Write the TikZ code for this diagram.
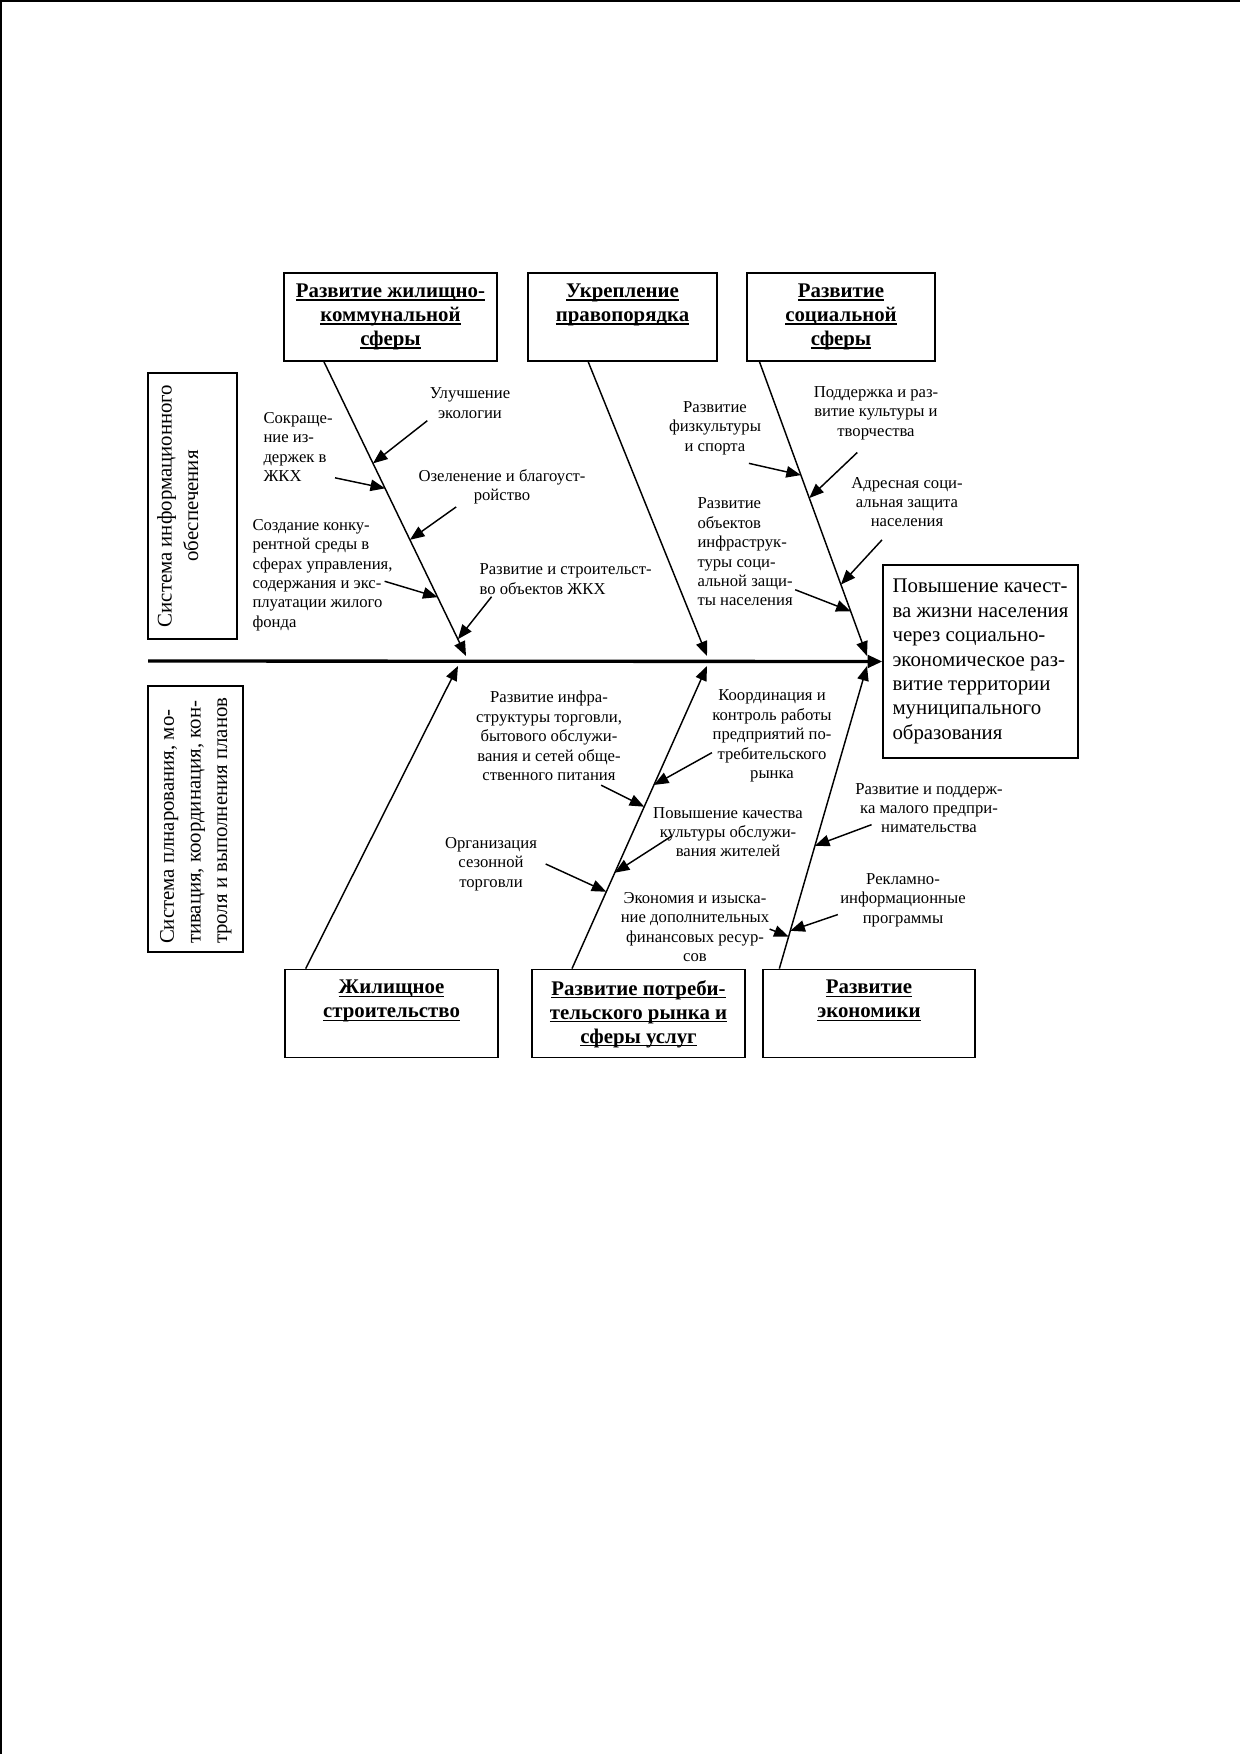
\documentclass[tikz,border=0pt]{standalone}
\usepackage{fontspec}
\setmainfont{Liberation Serif}
\usetikzlibrary{arrows.meta, positioning, calc}

\tikzstyle{head} = [draw, rectangle, line width=0.7pt, inner sep=0pt, minimum height=42.4pt, font=\fontsize{10}{11.5}\selectfont\bfseries]
\tikzstyle{side} = [draw, rectangle, line width=0.7pt, inner sep=0pt, rotate=90, minimum width=127.7pt, font=\fontsize{10}{12.8}\selectfont]
\tikzstyle{cause} = [inner sep=1pt, font=\fontsize{8}{9.3}\selectfont]
\tikzstyle{bone} = [draw, line width=0.7pt, -{Triangle[length=7pt,width=5.5pt]}]
\tikzstyle{arrow} = [draw, line width=0.7pt, -{Triangle[length=7pt,width=5.5pt]}]
\tikzstyle{spine} = [draw, line width=1.6pt, -{Triangle[length=7pt,width=6pt]}]

\newcommand{\undl}[1]{\leavevmode{\setbox0\hbox{#1}\rlap{\rule[-1.6pt]{\wd0}{0.7pt}}\box0}}
\newcommand{\headtxt}[2][88pt]{\parbox[c][40pt][t]{#1}{\centering\vspace{4pt}#2}}
\newcommand{\sidetxt}[2][\centering]{\parbox[c][40pt][t]{120pt}{#1\vspace{3pt}#2}}

\begin{document}
\begin{tikzpicture}[x=0.4801pt, y=-0.4801pt]
    \useasboundingbox (0,0) rectangle (1240,1754);
    % page edge
    \draw [line width=1pt] (1,1754) -- (1,1) -- (1240,1);

    % Draw blocks
    \node (hk) [head, minimum width=102.3pt] at (390.5,317) {\headtxt[100pt]{\undl{Развитие жилищно-}\\\undl{коммунальной}\\\undl{сферы}}};
    \node (law) [head, minimum width=90.7pt] at (622.5,317) {\headtxt{\undl{Укрепление}\\\undl{правопорядка}}};
    \node (soc) [head, minimum width=90.3pt] at (841,317) {\headtxt{\undl{Развитие}\\\undl{социальной}\\\undl{сферы}}};

    \node (zs) [head, minimum width=102.3pt] at (391.5,1013.5) {\headtxt[100pt]{\undl{Жилищное}\\\undl{строительство}}};
    \node (pr) [head, minimum width=102.3pt] at (638.5,1013.5) {\headtxt[100pt]{\undl{Развитие потреби-}\\\undl{тельского рынка и}\\\undl{сферы услуг}}};
    \node (ek) [head, minimum width=101.8pt] at (869,1013.5) {\headtxt[100pt]{\undl{Развитие}\\\undl{экономики}}};

    \node (goal) [draw, line width=0.7pt, minimum width=93.6pt, minimum height=92.7pt, align=left, font=\fontsize{10}{11.7}\selectfont] at (980.5,661.5) {Повышение качест-\\ва жизни населения\\через социально-\\экономическое раз-\\витие территории\\муниципального\\образования};

    \node (info) [side, minimum height=42.7pt] at (192.5,506) {\sidetxt{\mbox{Система информационного}\\обеспечения}};
    \node (plan) [side, minimum height=45.6pt] at (195.5,819) {\sidetxt[\raggedright]{\mbox{Система плнарования, мо-}\\\mbox{тивация, координация, кон-}\\\mbox{троля и выполнения планов}}};

    % Causes
    \node (ekol) [cause, align=center] at (470,403) {Улучшение\\экологии};
    \node (izd) [cause, align=left, anchor=west] at (261,447) {Сокраще-\\ние из-\\держек в\\ЖКХ};
    \node (ozel) [cause, align=center] at (502,487) {Озеленение и благоуст-\\ройство};
    \node (konk) [cause, align=left, anchor=west] at (250,575) {Создание конку-\\рентной среды в\\сферах управления,\\содержания и экс-\\плуатации жилого\\фонда};
    \node (zhkh) [cause, align=left, anchor=west] at (477,579) {Развитие и строительст-\\во объектов ЖКХ};

    \node (sport) [cause, align=center] at (715,428) {Развитие\\физкультуры\\и спорта};
    \node (kult) [cause, align=center] at (876,413) {Поддержка и раз-\\витие культуры и\\творчества};
    \node (adr) [cause, align=center] at (907,502) {Адресная соци-\\альная защита\\населения};
    \node (obj) [cause, align=left, anchor=west] at (695,552) {Развитие\\объектов\\инфраструк-\\туры соци-\\альной защи-\\ты населения};

    \node (torg) [cause, align=center] at (549,736) {Развитие инфра-\\структуры торговли,\\бытового обслужи-\\вания и сетей обще-\\ственного питания};
    \node (koord) [cause, align=center] at (772,736) {Координация и\\контроль работы\\предприятий по-\\требительского\\рынка};
    \node (kach) [cause, align=center] at (728,832) {Повышение качества\\культуры обслужи-\\вания жителей};
    \node (sez) [cause, align=center] at (491,864) {Организация\\сезонной\\торговли};
    \node (fin) [cause, align=center] at (695,927) {Экономия и изыска-\\ние дополнительных\\финансовых ресур-\\сов};

    \node (mal) [cause, align=center] at (929,808) {Развитие и поддерж-\\ка малого предпри-\\нимательства};
    \node (rekl) [cause, align=center] at (903,900) {Рекламно-\\информационные\\программы};

    % Spine and bones
    \coordinate (sp) at (148,661);
    \draw [spine] (sp) -- (goal.west);

    \coordinate (s1) at ($(hk.south west)!0.19!(hk.south east)$);
    \coordinate (s2) at ($(law.south west)!0.32!(law.south east)$);
    \coordinate (s3) at ($(soc.south west)!0.07!(soc.south east)$);
    \coordinate (s4) at ($(zs.north west)!0.10!(zs.north east)$);
    \coordinate (s5) at ($(pr.north west)!0.19!(pr.north east)$);
    \coordinate (s6) at ($(ek.north west)!0.08!(ek.north east)$);
    \coordinate (t1) at (466,656);
    \coordinate (t2) at (707,656);
    \coordinate (t3) at (867,656);
    \coordinate (t4) at (458,666);
    \coordinate (t5) at (707,666);
    \coordinate (t6) at (867,666);

    \draw [bone] (s1) -- (t1);
    \draw [bone] (s2) -- (t2);
    \draw [bone] (s3) -- (t3);
    \draw [bone] (s4) -- (t4);
    \draw [bone] (s5) -- (t5);
    \draw [bone] (s6) -- (t6);

    % Links
    \draw [arrow] (ekol.south west) -- ($(s1)!0.345!(t1)$);
    \draw [arrow] ([yshift=3pt]izd.south east) -- ($(s1)!0.43!(t1)$);
    \draw [arrow] ([xshift=-22pt]ozel.south) -- ($(s1)!0.605!(t1)$);
    \draw [arrow] ([xshift=-5pt,yshift=-3pt]konk.east) -- ($(s1)!0.8!(t1)$);
    \draw [arrow] ([xshift=7pt]zhkh.south west) -- ($(s1)!0.943!(t1)$);

    \draw [arrow] ([xshift=-7pt,yshift=-3pt]sport.south east) -- ($(s3)!0.385!(t3)$);
    \draw [arrow] ([xshift=-9pt,yshift=-5pt]kult.south) -- ($(s3)!0.463!(t3)$);
    \draw [arrow] ([xshift=-12pt,yshift=-5pt]adr.south) -- ($(s3)!0.757!(t3)$);
    \draw [arrow] ([yshift=9pt]obj.south east) -- ($(s3)!0.848!(t3)$);

    \draw [arrow] ([xshift=25pt,yshift=-1pt]torg.south) -- ($(s5)!0.535!(t5)$);
    \draw [arrow] ([xshift=1pt,yshift=-8pt]koord.west) -- ($(s5)!0.607!(t5)$);
    \draw [arrow] ([xshift=10pt,yshift=-2pt]kach.west) -- ($(s5)!0.317!(t5)$);
    \draw [arrow] ([xshift=3pt]sez.east) -- ($(s5)!0.254!(t5)$);

    \draw [arrow] ([xshift=-1pt,yshift=-1pt]fin.east) -- ($(s6)!0.106!(t6)$);
    \draw [arrow] ([xshift=9pt,yshift=-8pt]mal.west) -- ($(s6)!0.406!(t6)$);
    \draw [arrow] ([yshift=-7pt]rekl.west) -- ($(s6)!0.125!(t6)$);
\end{tikzpicture}
\end{document}
